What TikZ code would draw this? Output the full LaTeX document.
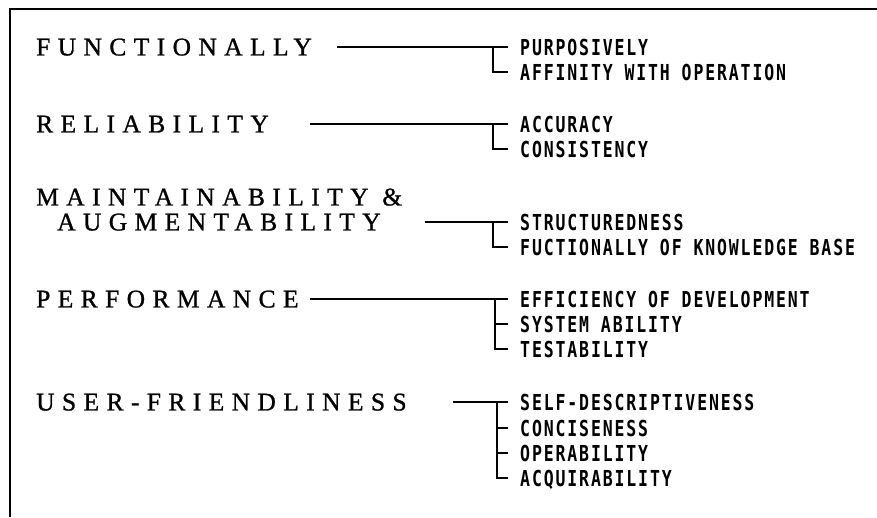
\documentclass[tikz,border=0pt]{standalone}
\usepackage{fontspec}
\setmainfont{Liberation Serif}
\newfontfamily\catfont[LetterSpace=29,FakeBold=1]{Liberation Serif}
\newfontfamily\itemfont[FakeStretch=0.75,LetterSpace=8.5]{DejaVu Sans Mono}

\tikzset{
  cat/.style={anchor=west, inner sep=0pt, text depth=0pt,
    font=\catfont\fontsize{25.5}{29}\selectfont},
  crit/.style={anchor=west, inner sep=0pt, text depth=0pt,
    font=\itemfont\bfseries\fontsize{22}{25}\selectfont},
  branch/.style={line width=1.5pt},
  frame/.style={line width=1.8pt}
}

\begin{document}
\begin{tikzpicture}[x=1pt,y=-1pt]
\useasboundingbox (0,0) rectangle (877,517);

% frame
\draw [frame] (10,517) -- (10,9) -- (877,9);

% quality characteristics
\node [cat] (func) at (36,47) {FUNCTIONALLY};
\node [cat] (rel) at (36,124) {RELIABILITY};
\node [cat] (maint) at (36,197) {MAINTAINABILITY \&};
\node [cat] (augm) at (57,222) {AUGMENTABILITY};
\node [cat] (perf) at (36,299) {PERFORMANCE};
\node [cat] (user) at (36,402) {USER-FRIENDLINESS};

% criteria
\node [crit] (purp) at (520,47) {PURPOSIVELY};
\node [crit] (affin) at (520,72) {AFFINITY WITH OPERATION};
\node [crit] (accur) at (520,124) {ACCURACY};
\node [crit] (consis) at (520,149) {CONSISTENCY};
\node [crit] (struct) at (520,222) {STRUCTUREDNESS};
\node [crit] (fkb) at (520,247) {FUCTIONALLY OF KNOWLEDGE BASE};
\node [crit] (effic) at (520,299) {EFFICIENCY OF DEVELOPMENT};
\node [crit] (sysab) at (520,324) {SYSTEM ABILITY};
\node [crit] (testab) at (520,349) {TESTABILITY};
\node [crit] (selfd) at (520,402) {SELF-DESCRIPTIVENESS};
\node [crit] (concis) at (520,428) {CONCISENESS};
\node [crit] (operab) at (520,453) {OPERABILITY};
\node [crit] (acquir) at (520,478) {ACQUIRABILITY};

% line starts
\coordinate (func0) at (337,47);
\coordinate (rel0) at (310,124);
\coordinate (augm0) at (425,222);
\coordinate (perf0) at (310,299);
\coordinate (user0) at (453,402);

% branches
\draw [branch] (func0) -- ([xshift=-12pt]purp.west);
\draw [branch] ([xshift=-27pt]purp.west) |- ([xshift=-12pt]affin.west);

\draw [branch] (rel0) -- ([xshift=-12pt]accur.west);
\draw [branch] ([xshift=-27pt]accur.west) |- ([xshift=-12pt]consis.west);

\draw [branch] (augm0) -- ([xshift=-12pt]struct.west);
\draw [branch] ([xshift=-27pt]struct.west) |- ([xshift=-12pt]fkb.west);

\draw [branch] (perf0) -- ([xshift=-12pt]effic.west);
\draw [branch] ([xshift=-25pt]effic.west) |- ([xshift=-12pt]testab.west);
\draw [branch] ([xshift=-25pt]sysab.west) -- ([xshift=-12pt]sysab.west);

\draw [branch] (user0) -- ([xshift=-12pt]selfd.west);
\draw [branch] ([xshift=-23pt]selfd.west) |- ([xshift=-12pt]acquir.west);
\draw [branch] ([xshift=-23pt]concis.west) -- ([xshift=-12pt]concis.west);
\draw [branch] ([xshift=-23pt]operab.west) -- ([xshift=-12pt]operab.west);
\end{tikzpicture}
\end{document}
